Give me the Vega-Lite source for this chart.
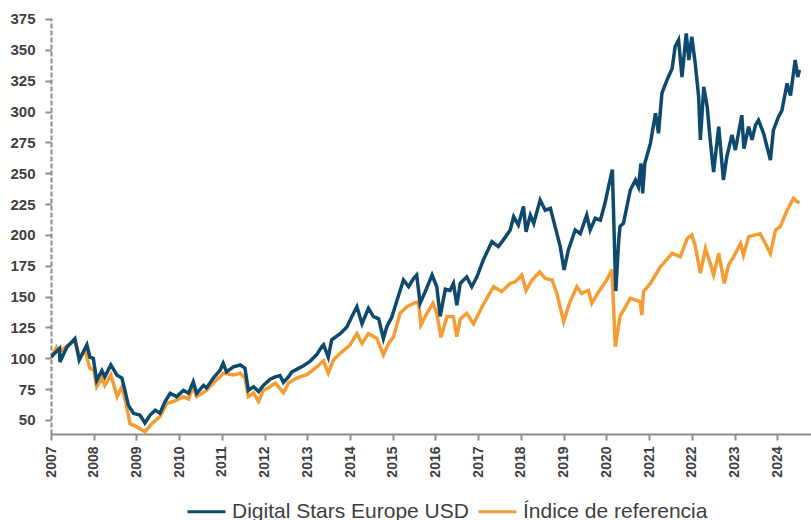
{
  "$schema": "https://vega.github.io/schema/vega-lite/v6.json",
  "width": 760,
  "height": 416,
  "autosize": {"type": "none"},
  "padding": {"left": 51, "top": 18, "right": 0, "bottom": 86},
  "background": "white",
  "config": {
    "view": {"stroke": null},
    "font": "Liberation Sans"
  },
  "datasets": {
    "fund": [
      {"year": 2007.00, "value": 101}, {"year": 2007.08, "value": 104}, {"year": 2007.20, "value": 108}, {"year": 2007.21, "value": 97},
      {"year": 2007.37, "value": 109}, {"year": 2007.56, "value": 116}, {"year": 2007.66, "value": 98.6}, {"year": 2007.84, "value": 111},
      {"year": 2007.91, "value": 101}, {"year": 2007.99, "value": 100}, {"year": 2008.07, "value": 82}, {"year": 2008.19, "value": 90},
      {"year": 2008.26, "value": 85}, {"year": 2008.40, "value": 94.6}, {"year": 2008.54, "value": 86.5}, {"year": 2008.66, "value": 84},
      {"year": 2008.73, "value": 74}, {"year": 2008.81, "value": 62}, {"year": 2008.93, "value": 55.4}, {"year": 2009.08, "value": 54},
      {"year": 2009.20, "value": 47.6}, {"year": 2009.32, "value": 54}, {"year": 2009.44, "value": 58}, {"year": 2009.55, "value": 55.5},
      {"year": 2009.67, "value": 65}, {"year": 2009.79, "value": 71.6}, {"year": 2009.94, "value": 69}, {"year": 2010.10, "value": 74},
      {"year": 2010.22, "value": 71.6}, {"year": 2010.33, "value": 81}, {"year": 2010.41, "value": 71.6}, {"year": 2010.57, "value": 78},
      {"year": 2010.64, "value": 76}, {"year": 2010.80, "value": 84}, {"year": 2010.96, "value": 90.5}, {"year": 2011.03, "value": 96},
      {"year": 2011.11, "value": 89}, {"year": 2011.27, "value": 93}, {"year": 2011.43, "value": 94.6}, {"year": 2011.54, "value": 92},
      {"year": 2011.62, "value": 74}, {"year": 2011.74, "value": 77}, {"year": 2011.86, "value": 73}, {"year": 2011.97, "value": 78},
      {"year": 2012.13, "value": 83}, {"year": 2012.25, "value": 85}, {"year": 2012.36, "value": 86}, {"year": 2012.44, "value": 80.5},
      {"year": 2012.56, "value": 85}, {"year": 2012.64, "value": 89}, {"year": 2012.75, "value": 91}, {"year": 2012.91, "value": 94},
      {"year": 2013.06, "value": 97.5}, {"year": 2013.22, "value": 103}, {"year": 2013.34, "value": 109.5}, {"year": 2013.38, "value": 111},
      {"year": 2013.49, "value": 101}, {"year": 2013.57, "value": 115}, {"year": 2013.77, "value": 120}, {"year": 2013.93, "value": 125.6},
      {"year": 2014.04, "value": 133.7}, {"year": 2014.16, "value": 141.8}, {"year": 2014.28, "value": 128}, {"year": 2014.43, "value": 140.5},
      {"year": 2014.55, "value": 133.7}, {"year": 2014.67, "value": 132}, {"year": 2014.78, "value": 116}, {"year": 2014.86, "value": 125.6},
      {"year": 2014.98, "value": 133.7}, {"year": 2015.10, "value": 147}, {"year": 2015.25, "value": 163.5}, {"year": 2015.37, "value": 158},
      {"year": 2015.49, "value": 164.8}, {"year": 2015.56, "value": 167.5}, {"year": 2015.64, "value": 144.6}, {"year": 2015.76, "value": 154},
      {"year": 2015.92, "value": 167.5}, {"year": 2016.03, "value": 158}, {"year": 2016.11, "value": 134}, {"year": 2016.23, "value": 156},
      {"year": 2016.34, "value": 155}, {"year": 2016.42, "value": 160.7}, {"year": 2016.50, "value": 143}, {"year": 2016.58, "value": 160.7},
      {"year": 2016.73, "value": 166}, {"year": 2016.85, "value": 158}, {"year": 2016.97, "value": 166}, {"year": 2017.12, "value": 179.7},
      {"year": 2017.32, "value": 194.5}, {"year": 2017.47, "value": 190.5}, {"year": 2017.59, "value": 196}, {"year": 2017.75, "value": 204},
      {"year": 2017.83, "value": 214.8}, {"year": 2017.94, "value": 208}, {"year": 2018.06, "value": 223}, {"year": 2018.12, "value": 202.6},
      {"year": 2018.22, "value": 216}, {"year": 2018.30, "value": 209.4}, {"year": 2018.45, "value": 228.3}, {"year": 2018.57, "value": 220},
      {"year": 2018.69, "value": 221.6}, {"year": 2018.80, "value": 206.7}, {"year": 2018.92, "value": 190.5}, {"year": 2019.01, "value": 171.6},
      {"year": 2019.11, "value": 187.8}, {"year": 2019.27, "value": 204}, {"year": 2019.39, "value": 201}, {"year": 2019.54, "value": 216},
      {"year": 2019.62, "value": 204}, {"year": 2019.74, "value": 213.5}, {"year": 2019.86, "value": 212}, {"year": 2019.97, "value": 226},
      {"year": 2020.05, "value": 239}, {"year": 2020.14, "value": 253}, {"year": 2020.22, "value": 154.5}, {"year": 2020.29, "value": 196},
      {"year": 2020.32, "value": 207}, {"year": 2020.40, "value": 209.4}, {"year": 2020.56, "value": 236.4}, {"year": 2020.68, "value": 244.5},
      {"year": 2020.75, "value": 239}, {"year": 2020.81, "value": 258}, {"year": 2020.85, "value": 233.7}, {"year": 2020.90, "value": 258},
      {"year": 2021.03, "value": 274}, {"year": 2021.15, "value": 298.6}, {"year": 2021.22, "value": 282.4}, {"year": 2021.30, "value": 314.8},
      {"year": 2021.42, "value": 325.6}, {"year": 2021.54, "value": 335}, {"year": 2021.61, "value": 352.7}, {"year": 2021.69, "value": 358},
      {"year": 2021.77, "value": 328}, {"year": 2021.87, "value": 363.4}, {"year": 2021.93, "value": 341.7}, {"year": 2022.00, "value": 360.6},
      {"year": 2022.08, "value": 339}, {"year": 2022.16, "value": 312}, {"year": 2022.20, "value": 277}, {"year": 2022.28, "value": 320},
      {"year": 2022.36, "value": 304}, {"year": 2022.43, "value": 277}, {"year": 2022.51, "value": 251}, {"year": 2022.63, "value": 287.7},
      {"year": 2022.74, "value": 244.5}, {"year": 2022.82, "value": 263.4}, {"year": 2022.94, "value": 281}, {"year": 2023.02, "value": 268.8},
      {"year": 2023.17, "value": 297}, {"year": 2023.22, "value": 270}, {"year": 2023.33, "value": 287.7}, {"year": 2023.41, "value": 277},
      {"year": 2023.49, "value": 289}, {"year": 2023.56, "value": 293}, {"year": 2023.68, "value": 282.4}, {"year": 2023.84, "value": 260.7},
      {"year": 2023.91, "value": 285}, {"year": 2024.03, "value": 295.8}, {"year": 2024.11, "value": 301}, {"year": 2024.23, "value": 322.8},
      {"year": 2024.31, "value": 313}, {"year": 2024.42, "value": 341.7}, {"year": 2024.48, "value": 328}, {"year": 2024.52, "value": 333.7}
    ],
    "bench": [
      {"year": 2007.00, "value": 100}, {"year": 2007.13, "value": 109}, {"year": 2007.20, "value": 105}, {"year": 2007.37, "value": 110},
      {"year": 2007.56, "value": 114}, {"year": 2007.68, "value": 100}, {"year": 2007.80, "value": 106.7}, {"year": 2007.91, "value": 92},
      {"year": 2008.00, "value": 90.5}, {"year": 2008.07, "value": 77}, {"year": 2008.19, "value": 84}, {"year": 2008.26, "value": 78},
      {"year": 2008.40, "value": 86.5}, {"year": 2008.55, "value": 69}, {"year": 2008.66, "value": 77}, {"year": 2008.77, "value": 61},
      {"year": 2008.85, "value": 47}, {"year": 2009.00, "value": 44.6}, {"year": 2009.20, "value": 40.5}, {"year": 2009.36, "value": 47},
      {"year": 2009.55, "value": 52.7}, {"year": 2009.71, "value": 63.5}, {"year": 2009.86, "value": 65}, {"year": 2010.10, "value": 69},
      {"year": 2010.22, "value": 67}, {"year": 2010.33, "value": 77}, {"year": 2010.41, "value": 69}, {"year": 2010.64, "value": 74},
      {"year": 2010.80, "value": 80}, {"year": 2010.96, "value": 85}, {"year": 2011.03, "value": 88}, {"year": 2011.27, "value": 86.5},
      {"year": 2011.43, "value": 88}, {"year": 2011.54, "value": 84}, {"year": 2011.62, "value": 69}, {"year": 2011.74, "value": 72},
      {"year": 2011.86, "value": 65}, {"year": 2011.97, "value": 74}, {"year": 2012.13, "value": 77}, {"year": 2012.25, "value": 80},
      {"year": 2012.44, "value": 72}, {"year": 2012.56, "value": 80}, {"year": 2012.75, "value": 84}, {"year": 2013.00, "value": 87},
      {"year": 2013.22, "value": 93}, {"year": 2013.38, "value": 98}, {"year": 2013.49, "value": 88}, {"year": 2013.61, "value": 98.6},
      {"year": 2013.77, "value": 104}, {"year": 2014.00, "value": 110.8}, {"year": 2014.16, "value": 120}, {"year": 2014.28, "value": 112},
      {"year": 2014.43, "value": 120}, {"year": 2014.63, "value": 116}, {"year": 2014.78, "value": 102.7}, {"year": 2014.90, "value": 112},
      {"year": 2015.02, "value": 117.5}, {"year": 2015.17, "value": 136.5}, {"year": 2015.33, "value": 141.8}, {"year": 2015.49, "value": 144.6},
      {"year": 2015.60, "value": 146}, {"year": 2015.66, "value": 127}, {"year": 2015.80, "value": 136.5}, {"year": 2015.94, "value": 144.6},
      {"year": 2016.03, "value": 136.5}, {"year": 2016.13, "value": 117}, {"year": 2016.27, "value": 134}, {"year": 2016.42, "value": 133.7},
      {"year": 2016.50, "value": 117.5}, {"year": 2016.58, "value": 132}, {"year": 2016.73, "value": 136.5}, {"year": 2016.89, "value": 128},
      {"year": 2017.09, "value": 141.8}, {"year": 2017.36, "value": 158}, {"year": 2017.55, "value": 154}, {"year": 2017.75, "value": 160.7},
      {"year": 2017.87, "value": 162}, {"year": 2018.02, "value": 167.5}, {"year": 2018.12, "value": 155}, {"year": 2018.26, "value": 163.5},
      {"year": 2018.44, "value": 170}, {"year": 2018.57, "value": 164.8}, {"year": 2018.73, "value": 163.5}, {"year": 2018.84, "value": 152.7},
      {"year": 2019.00, "value": 129.7}, {"year": 2019.15, "value": 146}, {"year": 2019.31, "value": 158}, {"year": 2019.42, "value": 152.7},
      {"year": 2019.58, "value": 155}, {"year": 2019.66, "value": 144.6}, {"year": 2019.82, "value": 154}, {"year": 2020.01, "value": 163.5},
      {"year": 2020.13, "value": 172}, {"year": 2020.21, "value": 109.4}, {"year": 2020.32, "value": 134}, {"year": 2020.56, "value": 148.6},
      {"year": 2020.79, "value": 146}, {"year": 2020.83, "value": 135}, {"year": 2020.87, "value": 154}, {"year": 2021.03, "value": 160.7},
      {"year": 2021.26, "value": 174}, {"year": 2021.54, "value": 185}, {"year": 2021.73, "value": 182.4}, {"year": 2021.89, "value": 197},
      {"year": 2022.00, "value": 200}, {"year": 2022.08, "value": 191}, {"year": 2022.20, "value": 169}, {"year": 2022.32, "value": 189},
      {"year": 2022.43, "value": 177}, {"year": 2022.51, "value": 167.5}, {"year": 2022.63, "value": 185}, {"year": 2022.76, "value": 160.7},
      {"year": 2022.86, "value": 175.6}, {"year": 2022.98, "value": 182.4}, {"year": 2023.14, "value": 193}, {"year": 2023.21, "value": 183.7},
      {"year": 2023.33, "value": 198.6}, {"year": 2023.49, "value": 200}, {"year": 2023.60, "value": 201}, {"year": 2023.72, "value": 193},
      {"year": 2023.84, "value": 185}, {"year": 2023.96, "value": 204}, {"year": 2024.07, "value": 206.7}, {"year": 2024.23, "value": 220},
      {"year": 2024.38, "value": 229.6}, {"year": 2024.46, "value": 227}, {"year": 2024.52, "value": 226}
    ]
  },
  "encoding": {
    "x": {
      "field": "year", "type": "quantitative",
      "scale": {"domain": [2007, 2024.79], "nice": false, "zero": false},
      "axis": {
        "title": null, "values": [2007,2008,2009,2010,2011,2012,2013,2014,2015,2016,2017,2018,2019,2020,2021,2022,2023,2024],
        "format": "d", "labelAngle": -90, "labelFont": "Liberation Sans", "labelFontWeight": "bold", "labelFontSize": 14,
        "labelColor": "#404040", "labelPadding": 6, "grid": false, "domainColor": "#8c8c8c", "domainWidth": 2,
        "tickColor": "#8c8c8c", "tickSize": 6, "tickWidth": 2, "labelOverlap": false, "labelFlush": false
      }
    },
    "y": {
      "field": "value", "type": "quantitative",
      "scale": {"domain": [38.65, 375.8], "nice": false, "zero": false},
      "axis": {
        "title": null, "values": [50,75,100,125,150,175,200,225,250,275,300,325,350,375],
        "labelFont": "Liberation Sans", "labelFontWeight": "bold", "labelFontSize": 15, "labelColor": "#404040",
        "labelPadding": 10, "grid": false, "domainColor": "#8c8c8c", "domainWidth": 2, "domainDash": [5, 2],
        "tickColor": "#8c8c8c", "tickSize": 6, "tickWidth": 2, "labelOverlap": false
      }
    },
    "color": {
      "field": "series", "type": "nominal",
      "scale": {"domain": ["Digital Stars Europe USD", "Índice de referencia"], "range": ["#0d4a6e", "#f59c34"]},
      "legend": {
        "title": null, "orient": "none", "direction": "horizontal", "legendX": 135, "legendY": 473,
        "symbolType": "stroke", "symbolSize": 1444, "symbolStrokeWidth": 3,
        "labelFont": "Liberation Sans", "labelFontSize": 21, "labelColor": "#404040", "labelOffset": 5,
        "columnPadding": 3, "labelLimit": 400
      }
    }
  },
  "layer": [
    {
      "data": {"name": "bench"},
      "mark": {"type": "line", "strokeWidth": 3.5, "clip": true},
      "encoding": {"color": {"datum": "Índice de referencia", "type": "nominal"}}
    },
    {
      "data": {"name": "fund"},
      "mark": {"type": "line", "strokeWidth": 3.5, "clip": true},
      "encoding": {"color": {"datum": "Digital Stars Europe USD", "type": "nominal"}}
    }
  ]
}
